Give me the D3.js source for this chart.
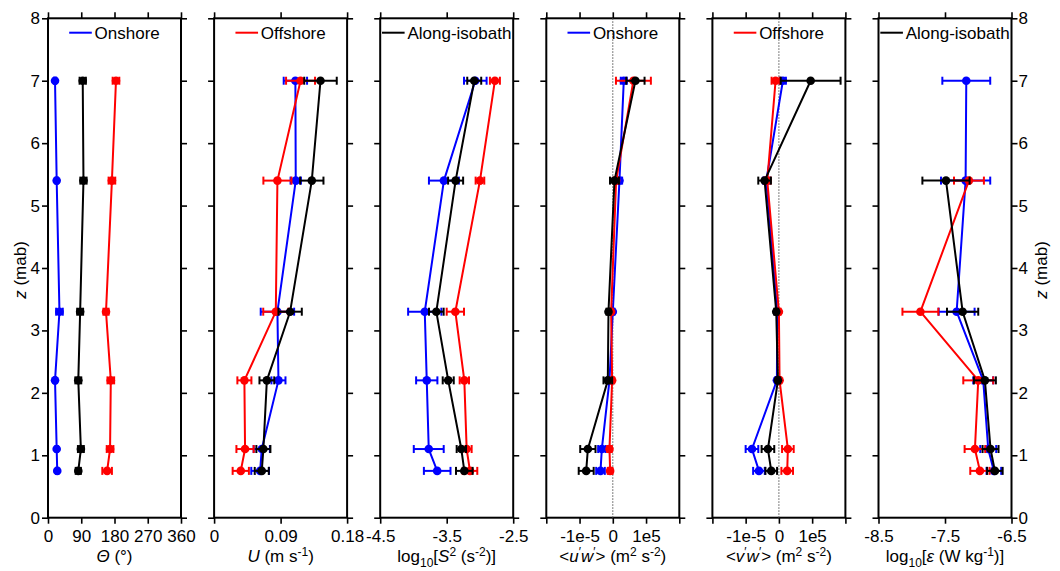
<!DOCTYPE html>
<html>
<head>
<meta charset="utf-8">
<script src="https://cdn.jsdelivr.net/npm/d3@7"></script>
<style>
  html, body { margin: 0; padding: 0; background: #fff; }
  svg { display: block; }
  text { font-family: "Liberation Sans", Arial, Helvetica, sans-serif; fill: #000; }
</style>
</head>
<body>
<svg id="chart" width="1060" height="571"></svg>
<script>
// Heights of the measurement levels (m above bottom)
const zLevels = [7.0, 5.4, 3.3, 2.2, 1.1, 0.75];

// Flow direction Θ (degrees)
const dirOnshore     = [19, 23.5, 31, 19, 23.5, 25];
const dirOnshoreErr  = [3, 3, 9, 3, 3, 3];
const dirOffshore    = [184, 173, 157, 170, 168, 160];
const dirOffshoreErr = [9, 9, 7, 9, 9, 13];
const dirAlong       = [94, 96, 87, 82, 89, 82];
const dirAlongErr    = [8.5, 8.5, 8, 8, 8, 7];

// Speed U (m s-1)
const spdOnshore     = [0.110, 0.1105, 0.0857, 0.0871, 0.0645, 0.0623];
const spdOnshoreErr  = [0.0158, 0.007, 0.0226, 0.0095, 0.011, 0.012];
const spdOffshore    = [0.117, 0.0857, 0.0835, 0.041, 0.0419, 0.0361];
const spdOffshoreErr = [0.0196, 0.019, 0.017, 0.0095, 0.0117, 0.011];
const spdAlong       = [0.144, 0.1322, 0.1029, 0.0714, 0.0667, 0.0645];
const spdAlongErr    = [0.022, 0.0158, 0.0158, 0.010, 0.0095, 0.0095];

// Shear squared, log10 S^2 (s-2)
const shearOnshore     = [-3.07, -3.542, -3.83, -3.80, -3.77, -3.643];
const shearOnshoreErr  = [0.17, 0.225, 0.25, 0.16, 0.225, 0.2];
const shearOffshore    = [-2.775, -3.0, -3.37, -3.235, -3.20, -3.15];
const shearOffshoreErr = [0.075, 0.065, 0.13, 0.07, 0.075, 0.11];
const shearAlong       = [-3.086, -3.366, -3.656, -3.477, -3.28, -3.235];
const shearAlongErr    = [0.105, 0.113, 0.11, 0.083, 0.07, 0.125];

// Reynolds stress <u'w'> (m2 s-2)
const uwOnshore     = [0.33e-5, 0.2e-5, 0.0, -0.1e-5, -0.33e-5, -0.37e-5];
const uwOnshoreErr  = [0.09e-5, 0.08e-5, 0.05e-5, 0.06e-5, 0.11e-5, 0.13e-5];
const uwOffshore    = [0.62e-5, 0.1e-5, -0.05e-5, -0.02e-5, -0.1e-5, -0.08e-5];
const uwOffshoreErr = [0.525e-5, 0.08e-5, 0.05e-5, 0.06e-5, 0.07e-5, 0.07e-5];
const uwAlong       = [0.68e-5, 0.05e-5, -0.13e-5, -0.15e-5, -0.75e-5, -0.8e-5];
const uwAlongErr    = [0.275e-5, 0.135e-5, 0.06e-5, 0.13e-5, 0.23e-5, 0.225e-5];

// Reynolds stress <v'w'> (m2 s-2)
const vwOnshore     = [0.12e-5, -0.38e-5, -0.05e-5, -0.06e-5, -0.81e-5, -0.6e-5];
const vwOnshoreErr  = [0.09e-5, 0.1e-5, 0.05e-5, 0.05e-5, 0.19e-5, 0.175e-5];
const vwOffshore    = [-0.1e-5, -0.35e-5, 0.0, 0.02e-5, 0.27e-5, 0.25e-5];
const vwOffshoreErr = [0.12e-5, 0.1e-5, 0.05e-5, 0.05e-5, 0.175e-5, 0.175e-5];
const vwAlong       = [0.955e-5, -0.43e-5, -0.08e-5, -0.03e-5, -0.33e-5, -0.23e-5];
const vwAlongErr    = [0.9e-5, 0.19e-5, 0.06e-5, 0.06e-5, 0.19e-5, 0.175e-5];

// Dissipation rate, log10 ε (W kg-1)
const epsOnshore     = [-7.18, -7.19, -7.325, -6.925, -6.85, -6.765];
const epsOnshoreErr  = [0.36, 0.37, 0.27, 0.15, 0.12, 0.11];
const epsOffshore    = [null, -7.14, -7.87, -7.0, -7.05, -6.975];
const epsOffshoreErr = [null, 0.225, 0.27, 0.225, 0.155, 0.145];
const epsAlong       = [null, -7.485, -7.235, -6.9, -6.815, -6.75];
const epsAlongErr    = [null, 0.355, 0.235, 0.165, 0.12, 0.117];

// Axis ticks and their labels
const dirTicks = [0, 90, 180, 270, 360];
const dirTickLabels = ["0", "90", "180", "270", "360"];
const spdTicks = [0, 0.09, 0.18];
const spdTickLabels = ["0", "0.09", "0.18"];
const shearTicks = [-4.5, -3.5, -2.5];
const shearTickLabels = ["-4.5", "-3.5", "-2.5"];
const stressTicks = [-2e-5, -1e-5, 0, 1e-5, 2e-5];
const stressTickLabels = ["", "-1e-5", "0", "1e5", ""];
const epsTicks = [-8.5, -7.5, -6.5];
const epsTickLabels = ["-8.5", "-7.5", "-6.5"];
const zTicks = [0, 1, 2, 3, 4, 5, 6, 7, 8];

const seriesNames = ["Onshore", "Offshore", "Along-isobath"];
const seriesColors = ["#0000ff", "#ff0000", "#000000"];

// ---- layout ----
const svg = d3.select("#chart");
const FS = 17;
const panelW = 133, panelStep = 166.1, left0 = 48;
const yTop = 18.3, yBot = 517.7;
const y = d3.scaleLinear().domain([0, 8]).range([yBot, yTop]);

const panels = [
  { domain: [0, 360], ticks: dirTicks, labels: dirTickLabels,
    series: [[dirOnshore, dirOnshoreErr], [dirOffshore, dirOffshoreErr], [dirAlong, dirAlongErr]],
    legend: 0, title: "theta" },
  { domain: [0, 0.18], ticks: spdTicks, labels: spdTickLabels,
    series: [[spdOnshore, spdOnshoreErr], [spdOffshore, spdOffshoreErr], [spdAlong, spdAlongErr]],
    legend: 1, title: "speed" },
  { domain: [-4.5, -2.5], ticks: shearTicks, labels: shearTickLabels,
    series: [[shearOnshore, shearOnshoreErr], [shearOffshore, shearOffshoreErr], [shearAlong, shearAlongErr]],
    legend: 2, title: "shear" },
  { domain: [-2e-5, 2e-5], ticks: stressTicks, labels: stressTickLabels,
    series: [[uwOnshore, uwOnshoreErr], [uwOffshore, uwOffshoreErr], [uwAlong, uwAlongErr]],
    legend: 0, title: "uw", zeroLine: true },
  { domain: [-2e-5, 2e-5], ticks: stressTicks, labels: stressTickLabels,
    series: [[vwOnshore, vwOnshoreErr], [vwOffshore, vwOffshoreErr], [vwAlong, vwAlongErr]],
    legend: 1, title: "vw", zeroLine: true },
  { domain: [-8.5, -6.5], ticks: epsTicks, labels: epsTickLabels,
    series: [[epsOnshore, epsOnshoreErr], [epsOffshore, epsOffshoreErr], [epsAlong, epsAlongErr]],
    legend: 2, title: "eps" }
];

function styleAxis(g) {
  g.select(".domain").remove();
  g.selectAll(".tick line").attr("stroke", "#000").attr("stroke-width", 1.6);
  g.selectAll(".tick text").attr("font-size", FS).attr("font-family", null).attr("fill", "#000");
}

// Writes rich text pieces: [text, {italic, sup, sub}]
function richText(sel, parts) {
  let shift = 0;
  parts.forEach(p => {
    const t = sel.append("tspan").text(p.t);
    let target = 0;
    if (p.sup) { target = -6; t.attr("font-size", 12); }
    if (p.sub) { target = 5; t.attr("font-size", 12); }
    t.attr("dy", target - shift);
    shift = target;
    if (p.i) t.attr("font-style", "italic");
  });
}

const titles = {
  theta: [{ t: "Θ", i: true }, { t: " (°)" }],
  speed: [{ t: "U", i: true }, { t: " (m s" }, { t: "-1", sup: true }, { t: ")" }],
  shear: [{ t: "log" }, { t: "10", sub: true }, { t: "[" }, { t: "S", i: true }, { t: "2", sup: true }, { t: " (s" }, { t: "-2", sup: true }, { t: ")]" }],
  uw: [{ t: "<" }, { t: "u", i: true }, { t: "′", sup: true }, { t: "w", i: true }, { t: "′", sup: true }, { t: "> (m" }, { t: "2", sup: true }, { t: " s" }, { t: "-2", sup: true }, { t: ")" }],
  vw: [{ t: "<" }, { t: "v", i: true }, { t: "′", sup: true }, { t: "w", i: true }, { t: "′", sup: true }, { t: "> (m" }, { t: "2", sup: true }, { t: " s" }, { t: "-2", sup: true }, { t: ")" }],
  eps: [{ t: "log" }, { t: "10", sub: true }, { t: "[" }, { t: "ε", i: true }, { t: " (W kg" }, { t: "-1", sup: true }, { t: ")]" }]
};

panels.forEach((p, pi) => {
  const x0 = left0 + pi * panelStep;
  const x = d3.scaleLinear().domain(p.domain).range([x0, x0 + panelW]);
  const g = svg.append("g");

  // axes (ticks point outward on every side)
  g.append("g").attr("transform", `translate(0,${yBot})`)
    .call(d3.axisBottom(x).tickValues(p.ticks).tickFormat((d, i) => p.labels[i])
      .tickSizeInner(6).tickSizeOuter(0).tickPadding(6))
    .call(styleAxis);
  g.append("g").attr("transform", `translate(0,${yTop})`)
    .call(d3.axisTop(x).tickValues(p.ticks).tickFormat("").tickSizeInner(6).tickSizeOuter(0))
    .call(styleAxis);
  g.append("g").attr("transform", `translate(${x0},0)`)
    .call(d3.axisLeft(y).tickValues(zTicks).tickFormat(pi === 0 ? d3.format("d") : "")
      .tickSizeInner(6).tickSizeOuter(0).tickPadding(2))
    .call(styleAxis);
  g.append("g").attr("transform", `translate(${x0 + panelW},0)`)
    .call(d3.axisRight(y).tickValues(zTicks).tickFormat(pi === panels.length - 1 ? d3.format("d") : "")
      .tickSizeInner(6).tickSizeOuter(0).tickPadding(1))
    .call(styleAxis);

  // frame
  g.append("rect").attr("x", x0).attr("y", yTop).attr("width", panelW).attr("height", yBot - yTop)
    .attr("fill", "none").attr("stroke", "#000").attr("stroke-width", 2);

  // dotted zero reference
  if (p.zeroLine) {
    g.append("line").attr("x1", x(0)).attr("x2", x(0)).attr("y1", yTop).attr("y2", yBot)
      .attr("stroke", "#555").attr("stroke-width", 1).attr("stroke-dasharray", "1.5,1.5");
  }

  // data series: line, error bars, markers
  p.series.forEach(([vals, errs], si) => {
    const color = seriesColors[si];
    const pts = zLevels.map((z, k) => ({ z, v: vals[k], e: errs[k] })).filter(d => d.v !== null);
    const sg = g.append("g");
    sg.append("path").datum(pts)
      .attr("d", d3.line().x(d => x(d.v)).y(d => y(d.z)))
      .attr("fill", "none").attr("stroke", color).attr("stroke-width", 2).attr("stroke-linejoin", "round");
    const eb = sg.selectAll("g.eb").data(pts).join("g").attr("class", "eb")
      .attr("stroke", color).attr("stroke-width", 2);
    eb.append("line").attr("x1", d => x(d.v - d.e)).attr("x2", d => x(d.v + d.e))
      .attr("y1", d => y(d.z)).attr("y2", d => y(d.z));
    eb.append("line").attr("x1", d => x(d.v - d.e)).attr("x2", d => x(d.v - d.e))
      .attr("y1", d => y(d.z) - 4).attr("y2", d => y(d.z) + 4);
    eb.append("line").attr("x1", d => x(d.v + d.e)).attr("x2", d => x(d.v + d.e))
      .attr("y1", d => y(d.z) - 4).attr("y2", d => y(d.z) + 4);
    sg.selectAll("circle").data(pts).join("circle")
      .attr("cx", d => x(d.v)).attr("cy", d => y(d.z)).attr("r", 4.3).attr("fill", color);
  });

  // legend (one entry per panel, centred)
  const lg = g.append("g");
  const lt = lg.append("text").attr("font-size", FS).attr("y", 39).text(seriesNames[p.legend]);
  const tw = lt.node().getComputedTextLength();
  const total = 22.6 + 2.8 + tw;
  const lx = x0 + panelW / 2 - total / 2;
  lg.append("line").attr("x1", lx).attr("x2", lx + 22.6).attr("y1", 32.7).attr("y2", 32.7)
    .attr("stroke", seriesColors[p.legend]).attr("stroke-width", 2);
  lt.attr("x", lx + 25.4);

  // x-axis title
  const tt = svg.append("text").attr("font-size", FS).attr("text-anchor", "middle")
    .attr("x", x0 + panelW / 2).attr("y", 562);
  richText(tt, titles[p.title]);
});

// z-axis titles on both outer sides
[[20, 270], [1041, 270]].forEach(([cx, cy]) => {
  const t = svg.append("text").attr("font-size", FS).attr("text-anchor", "middle")
    .attr("transform", `translate(${cx},${cy}) rotate(-90)`).attr("dy", "0.35em");
  t.append("tspan").attr("font-style", "italic").text("z");
  t.append("tspan").text(" (mab)");
});
</script>
</body>
</html>
